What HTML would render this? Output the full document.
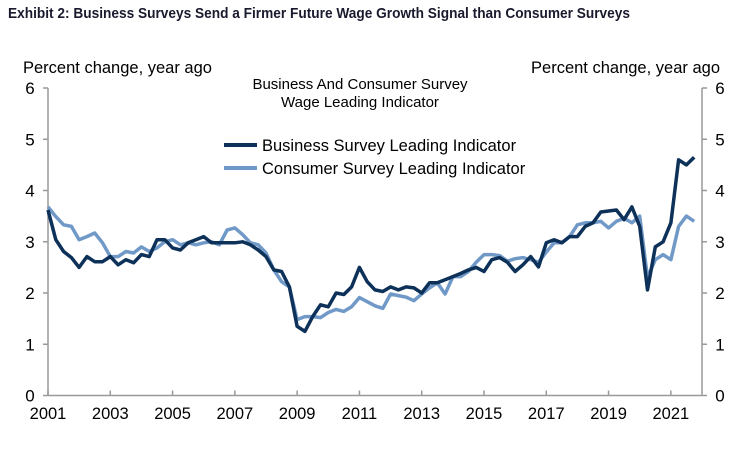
<!DOCTYPE html>
<html><head><meta charset="utf-8"><style>
body{margin:0;background:#fff;}
svg text{font-family:"Liberation Sans",Arial,sans-serif;}
</style></head><body>
<svg width="756" height="446" viewBox="0 0 756 446" xmlns="http://www.w3.org/2000/svg">
<text x="8" y="18" font-size="15" font-weight="bold" fill="#1a1a2e" textLength="622" lengthAdjust="spacingAndGlyphs">Exhibit 2: Business Surveys Send a Firmer Future Wage Growth Signal than Consumer Surveys</text>
<text x="23" y="73" font-size="16.5" fill="#000">Percent change, year ago</text>
<text x="720" y="73" font-size="16.5" fill="#000" text-anchor="end">Percent change, year ago</text>
<text x="360" y="89" font-size="15" text-anchor="middle">Business And Consumer Survey</text>
<text x="360" y="107" font-size="15" text-anchor="middle">Wage Leading Indicator</text>
<g id="axes"></g>
<g id="series"></g>
<g>
<line x1="224" y1="145" x2="257" y2="145" stroke="#0d3158" stroke-width="4"/>
<text x="262" y="151" font-size="16.5">Business Survey Leading Indicator</text>
<line x1="224" y1="168" x2="257" y2="168" stroke="#7199c8" stroke-width="4"/>
<text x="262" y="174" font-size="16.5">Consumer Survey Leading Indicator</text>
</g>
</svg>
<script>
const yTicks=[0,1,2,3,4,5,6];
const xTickLabels=[2001,2003,2005,2007,2009,2011,2013,2015,2017,2019,2021];
const startYear=2001;
const business=[3.62,3.04,2.81,2.69,2.5,2.71,2.61,2.61,2.71,2.55,2.65,2.59,2.75,2.71,3.04,3.04,2.88,2.84,2.98,3.04,3.1,2.98,2.98,2.98,2.98,3.0,2.94,2.84,2.71,2.45,2.42,2.12,1.35,1.25,1.54,1.77,1.73,2.0,1.97,2.12,2.5,2.22,2.06,2.03,2.12,2.06,2.12,2.1,2.0,2.2,2.2,2.26,2.32,2.38,2.45,2.5,2.42,2.65,2.69,2.6,2.42,2.55,2.71,2.51,2.98,3.04,2.98,3.1,3.1,3.3,3.37,3.58,3.6,3.62,3.43,3.68,3.3,2.06,2.9,3.0,3.37,4.6,4.5,4.65];
const consumer=[3.68,3.49,3.33,3.3,3.04,3.1,3.17,2.98,2.71,2.71,2.81,2.78,2.9,2.81,2.88,3.0,3.04,2.94,2.98,2.94,2.98,3.0,2.94,3.23,3.27,3.14,2.98,2.94,2.78,2.45,2.22,2.12,1.48,1.54,1.54,1.52,1.62,1.68,1.64,1.73,1.91,1.83,1.75,1.7,1.98,1.95,1.92,1.85,1.98,2.1,2.2,1.98,2.32,2.32,2.42,2.6,2.75,2.75,2.73,2.62,2.67,2.69,2.65,2.6,2.8,2.98,2.98,3.1,3.33,3.37,3.37,3.4,3.27,3.4,3.46,3.37,3.5,2.3,2.65,2.75,2.65,3.3,3.5,3.4];
const NS='http://www.w3.org/2000/svg';
const X0=48,X1=702,Y0=395.5,Y1=88;
function xPos(t){return X0+(t-2001)*(X1-X0)/21;}
function yPos(v){return Y0-v*(Y0-Y1)/6;}
function mk(tag,attrs,parent){const e=document.createElementNS(NS,tag);for(const k in attrs)e.setAttribute(k,attrs[k]);parent.appendChild(e);return e;}
const ax=document.getElementById('axes');
let e;
e=mk('line',{x1:X0,y1:Y1,x2:X0,y2:Y0,stroke:'#999','stroke-width':1.5},ax);


e=mk('line',{x1:X1,y1:Y1,x2:X1,y2:Y0,stroke:'#999','stroke-width':1.5},ax);


e=mk('line',{x1:X0,y1:Y0,x2:X1,y2:Y0,stroke:'#999','stroke-width':1.5},ax);


yTicks.forEach(v=>{
  const y=yPos(v);
  mk('line',{x1:X0-5,y1:y,x2:X0,y2:y,stroke:'#999','stroke-width':1.5},ax);
  mk('line',{x1:X1,y1:y,x2:X1+5,y2:y,stroke:'#999','stroke-width':1.5},ax);
  let t=mk('text',{x:30,y:y+6,'font-size':17,'text-anchor':'middle'},ax);t.textContent=v;
  
  
  t=mk('text',{x:720,y:y+6,'font-size':17,'text-anchor':'middle'},ax);t.textContent=v;
  
  
});
xTickLabels.forEach(yr=>{
  const x=xPos(yr);
  mk('line',{x1:x,y1:Y0-5,x2:x,y2:Y0,stroke:'#999','stroke-width':1.5},ax);
  const t=mk('text',{x:x,y:419,'font-size':16.5,'text-anchor':'middle'},ax);t.textContent=yr;
  
  
});
const sg=document.getElementById('series');
function draw(arr,color,name){
  const d=arr.map((v,i)=>(i?'L':'M')+xPos(startYear+i*0.25).toFixed(1)+','+yPos(v).toFixed(1)).join(' ');
  const p=mk('path',{d:d,fill:'none',stroke:color,'stroke-width':3.5,'stroke-linejoin':'round'},sg);
  
  
}
draw(consumer,'#7199c8','consumer-survey-line');
draw(business,'#0d3158','business-survey-line');
</script>
</body></html>
